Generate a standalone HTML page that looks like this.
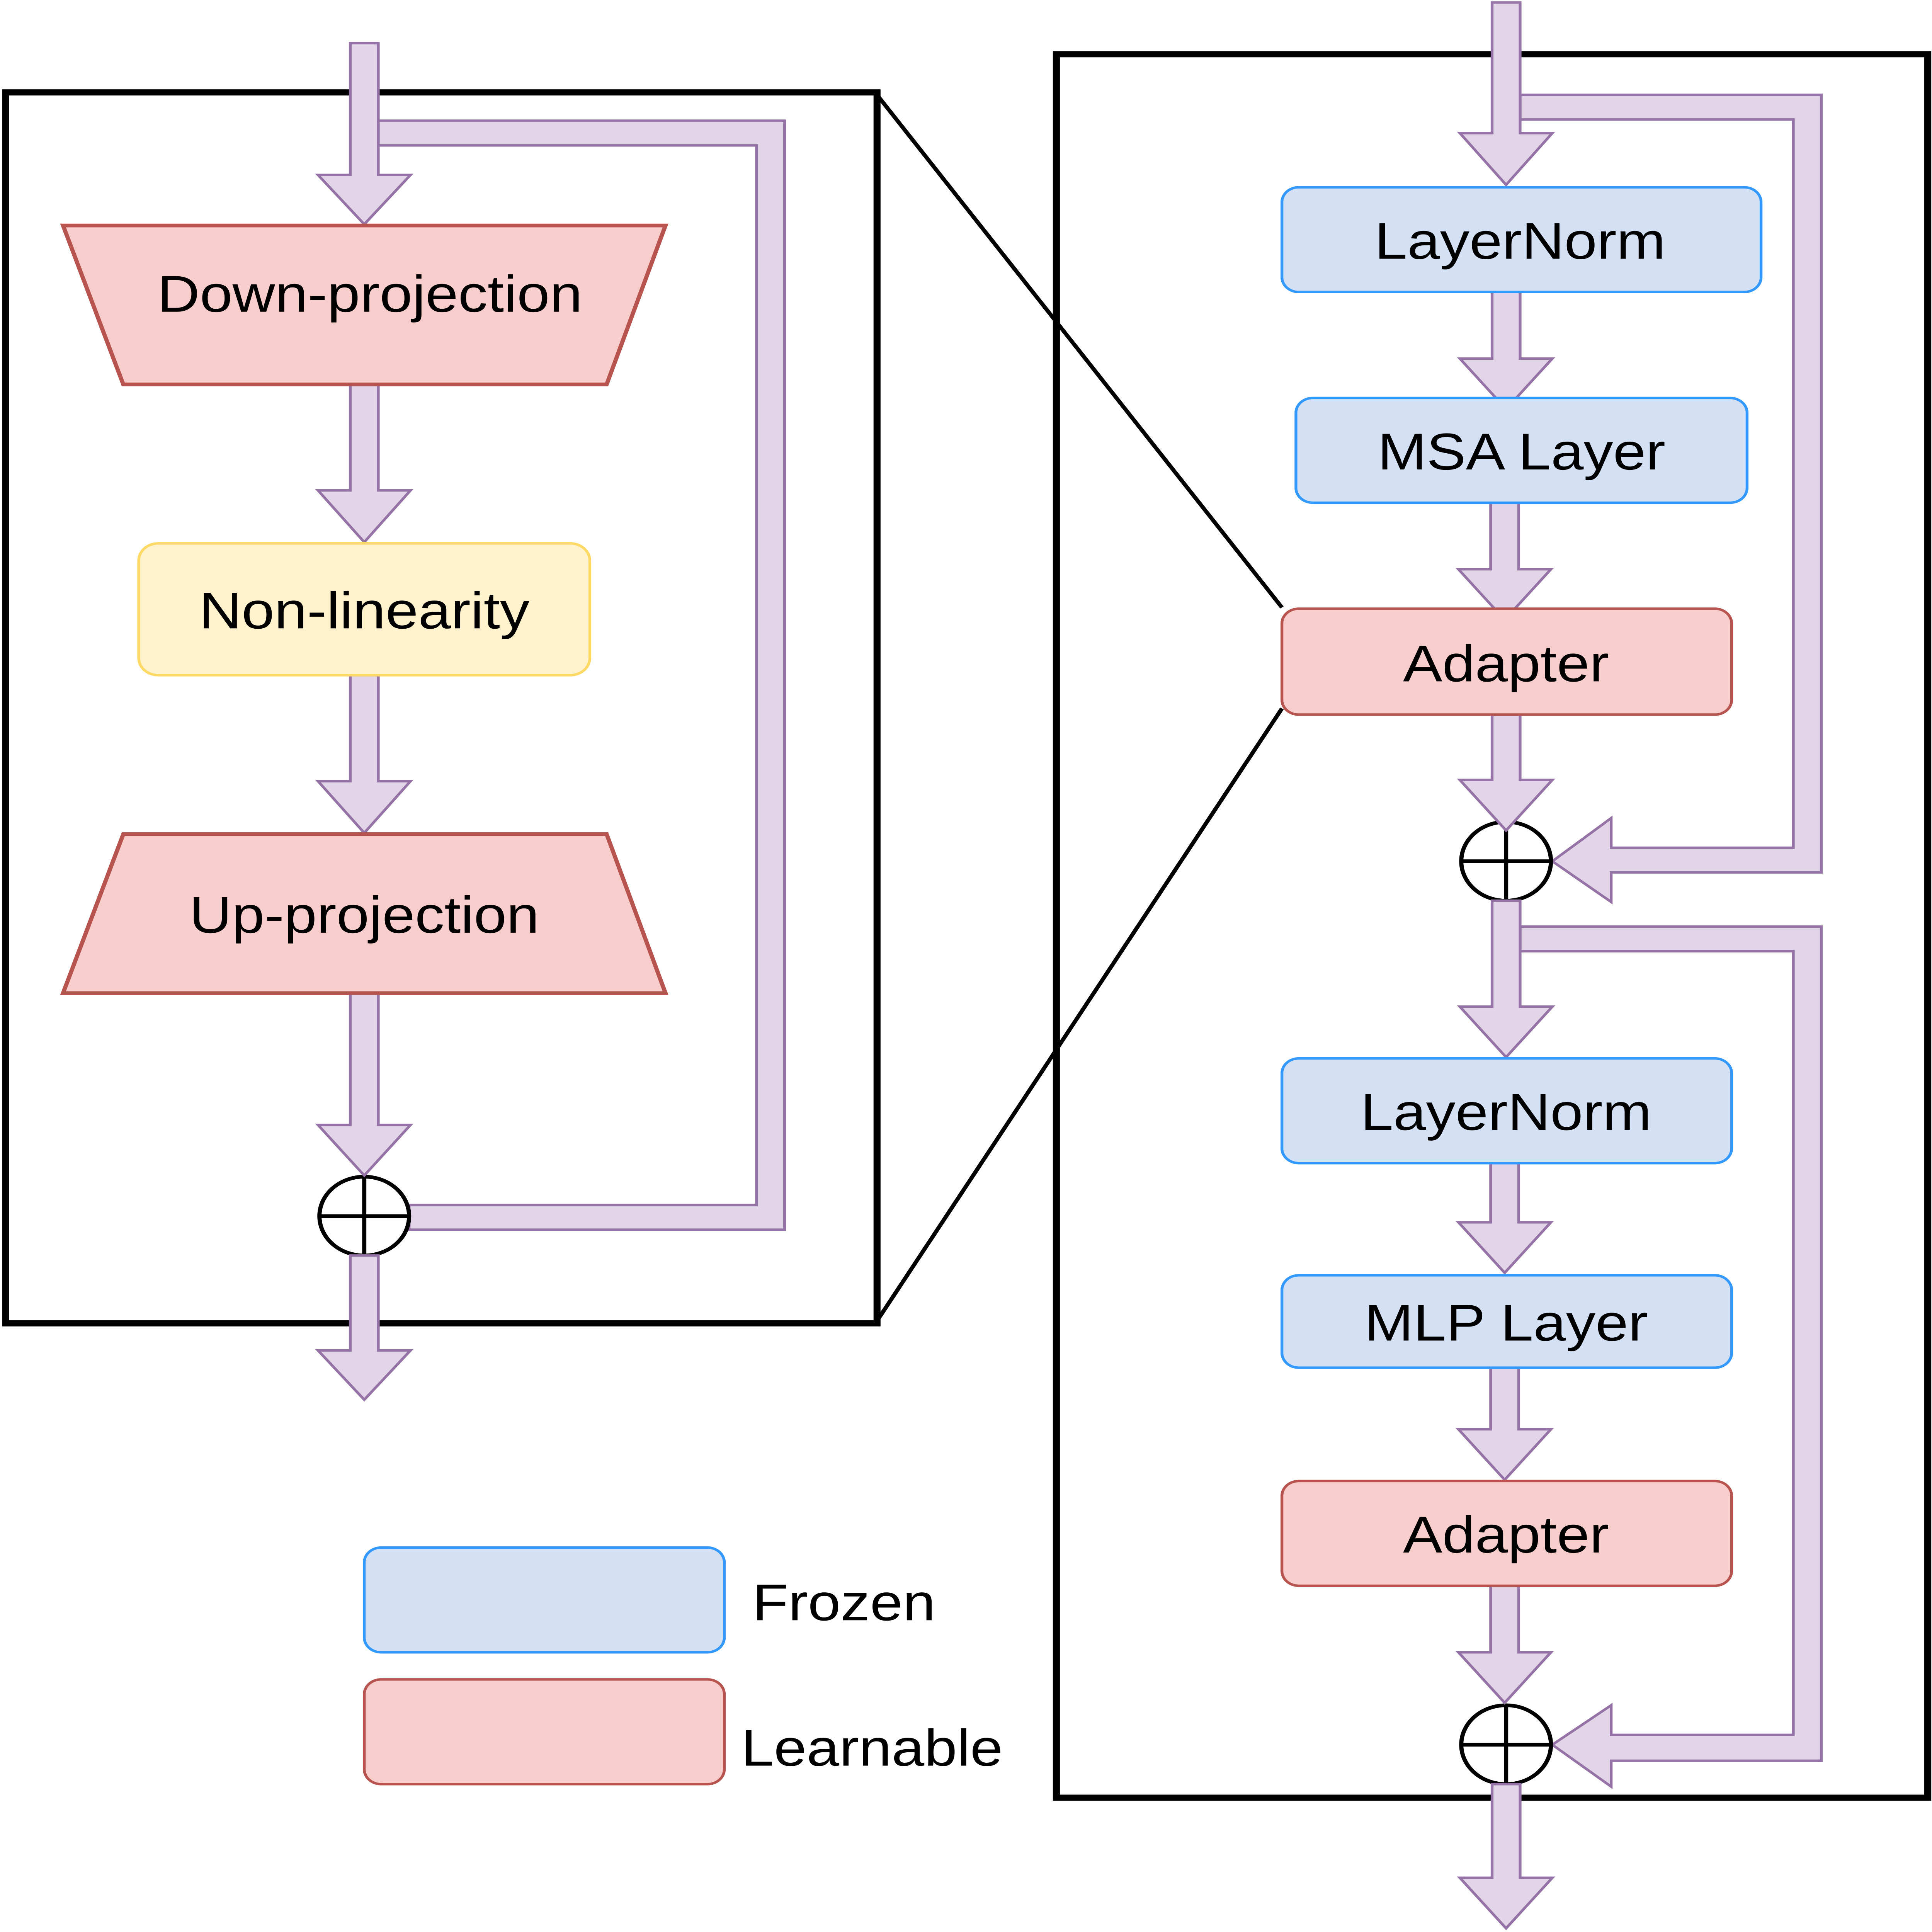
<!DOCTYPE html>
<html><head><meta charset="utf-8"><style>
html,body{margin:0;padding:0;background:#fff;width:100%;height:100%;overflow:hidden}
svg{display:block;position:fixed;left:0;top:0;width:100vw;height:100vh}
</style></head>
<body>
<svg xmlns="http://www.w3.org/2000/svg" viewBox="0 0 1379 1568" preserveAspectRatio="none">
<rect width="1379" height="1568" fill="#fff"/>
<g font-family="Liberation Sans, Arial, sans-serif" font-size="42" text-anchor="middle" fill="#000">
<rect x="4" y="75" width="622" height="999" fill="none" stroke="#000" stroke-width="5"/>
<rect x="754" y="44" width="622" height="1415" fill="none" stroke="#000" stroke-width="5"/>
<line x1="626" y1="77" x2="915" y2="493" stroke="#000" stroke-width="3"/>
<line x1="626" y1="1072" x2="915" y2="575" stroke="#000" stroke-width="3"/>

<g fill="#e1d5e7" stroke="#9673a6" stroke-width="2">
<polygon points="270,98 560,98 560,998 292,998 292,978 540,978 540,118 270,118"/>
<polygon points="1085,77 1300,77 1300,708 1150,708 1150,732 1108,699 1150,664 1150,688 1280,688 1280,97 1085,97"/>
<polygon points="1085,752 1300,752 1300,1429 1150,1429 1150,1450 1108,1416 1150,1384 1150,1408 1280,1408 1280,772 1085,772"/>
</g>

<g fill="#fff" stroke="#000" stroke-width="3">
<circle cx="260" cy="987" r="32"/><line x1="228" y1="987" x2="292" y2="987"/><line x1="260" y1="955" x2="260" y2="1019"/>
<circle cx="1075" cy="699" r="32"/><line x1="1043" y1="699" x2="1107" y2="699"/><line x1="1075" y1="667" x2="1075" y2="731"/>
<circle cx="1075" cy="1416" r="32"/><line x1="1043" y1="1416" x2="1107" y2="1416"/><line x1="1075" y1="1384" x2="1075" y2="1448"/>
</g>

<g fill="#e1d5e7" stroke="#9673a6" stroke-width="2">
<polygon points="250,35 270,35 270,142 293,142 260,182 227,142 250,142"/>
<polygon points="250,312 270,312 270,398 293,398 260,440 227,398 250,398"/>
<polygon points="250,548 270,548 270,634 293,634 260,676 227,634 250,634"/>
<polygon points="250,806 270,806 270,913 293,913 260,954 227,913 250,913"/>
<polygon points="250,1019 270,1019 270,1096 293,1096 260,1136 227,1096 250,1096"/>
<polygon points="1065,2 1085,2 1085,108 1108,108 1075,150 1042,108 1065,108"/>
<polygon points="1065,237 1085,237 1085,291 1108,291 1075,332 1042,291 1065,291"/>
<polygon points="1064,408 1084,408 1084,462 1107,462 1074,503 1041,462 1064,462"/>
<polygon points="1065,580 1085,580 1085,633 1108,633 1075,674 1042,633 1065,633"/>
<polygon points="1065,731 1085,731 1085,817 1108,817 1075,858 1042,817 1065,817"/>
<polygon points="1064,944 1084,944 1084,992 1107,992 1074,1033 1041,992 1064,992"/>
<polygon points="1064,1110 1084,1110 1084,1160 1107,1160 1074,1201 1041,1160 1064,1160"/>
<polygon points="1064,1287 1084,1287 1084,1341 1107,1341 1074,1382 1041,1341 1064,1341"/>
<polygon points="1065,1448 1085,1448 1085,1524 1108,1524 1075,1565 1042,1524 1065,1524"/>
</g>

<polygon points="45,183 475,183 433,312 88,312" fill="#f8cecc" stroke="#b85450" stroke-width="3"/>
<text x="264" y="253">Down-projection</text>
<rect x="99" y="441" width="322" height="107" rx="14" fill="#fff2cc" stroke="#ffd966" stroke-width="2"/>
<text x="260" y="510">Non-linearity</text>
<polygon points="88,677 433,677 475,806 45,806" fill="#f8cecc" stroke="#b85450" stroke-width="3"/>
<text x="260" y="757">Up-projection</text>

<rect x="915" y="152" width="342" height="85" rx="12" fill="#d4e1f5" stroke="#3399ff" stroke-width="2"/>
<text x="1085" y="210">LayerNorm</text>
<rect x="925" y="323" width="322" height="85" rx="12" fill="#d4e1f5" stroke="#3399ff" stroke-width="2"/>
<text x="1086" y="381">MSA Layer</text>
<rect x="915" y="494" width="321" height="86" rx="12" fill="#f8cecc" stroke="#b85450" stroke-width="2"/>
<text x="1075" y="553">Adapter</text>
<rect x="915" y="859" width="321" height="85" rx="12" fill="#d4e1f5" stroke="#3399ff" stroke-width="2"/>
<text x="1075" y="917">LayerNorm</text>
<rect x="915" y="1035" width="321" height="75" rx="12" fill="#d4e1f5" stroke="#3399ff" stroke-width="2"/>
<text x="1075" y="1088">MLP Layer</text>
<rect x="915" y="1202" width="321" height="85" rx="12" fill="#f8cecc" stroke="#b85450" stroke-width="2"/>
<text x="1075" y="1260">Adapter</text>

<rect x="260" y="1256" width="257" height="85" rx="12" fill="#d4e1f5" stroke="#3399ff" stroke-width="2"/>
<text x="537" y="1315" text-anchor="start">Frozen</text>
<rect x="260" y="1363" width="257" height="85" rx="12" fill="#f8cecc" stroke="#b85450" stroke-width="2"/>
<text x="529" y="1433" text-anchor="start">Learnable</text>
</g>
</svg>
</body></html>
